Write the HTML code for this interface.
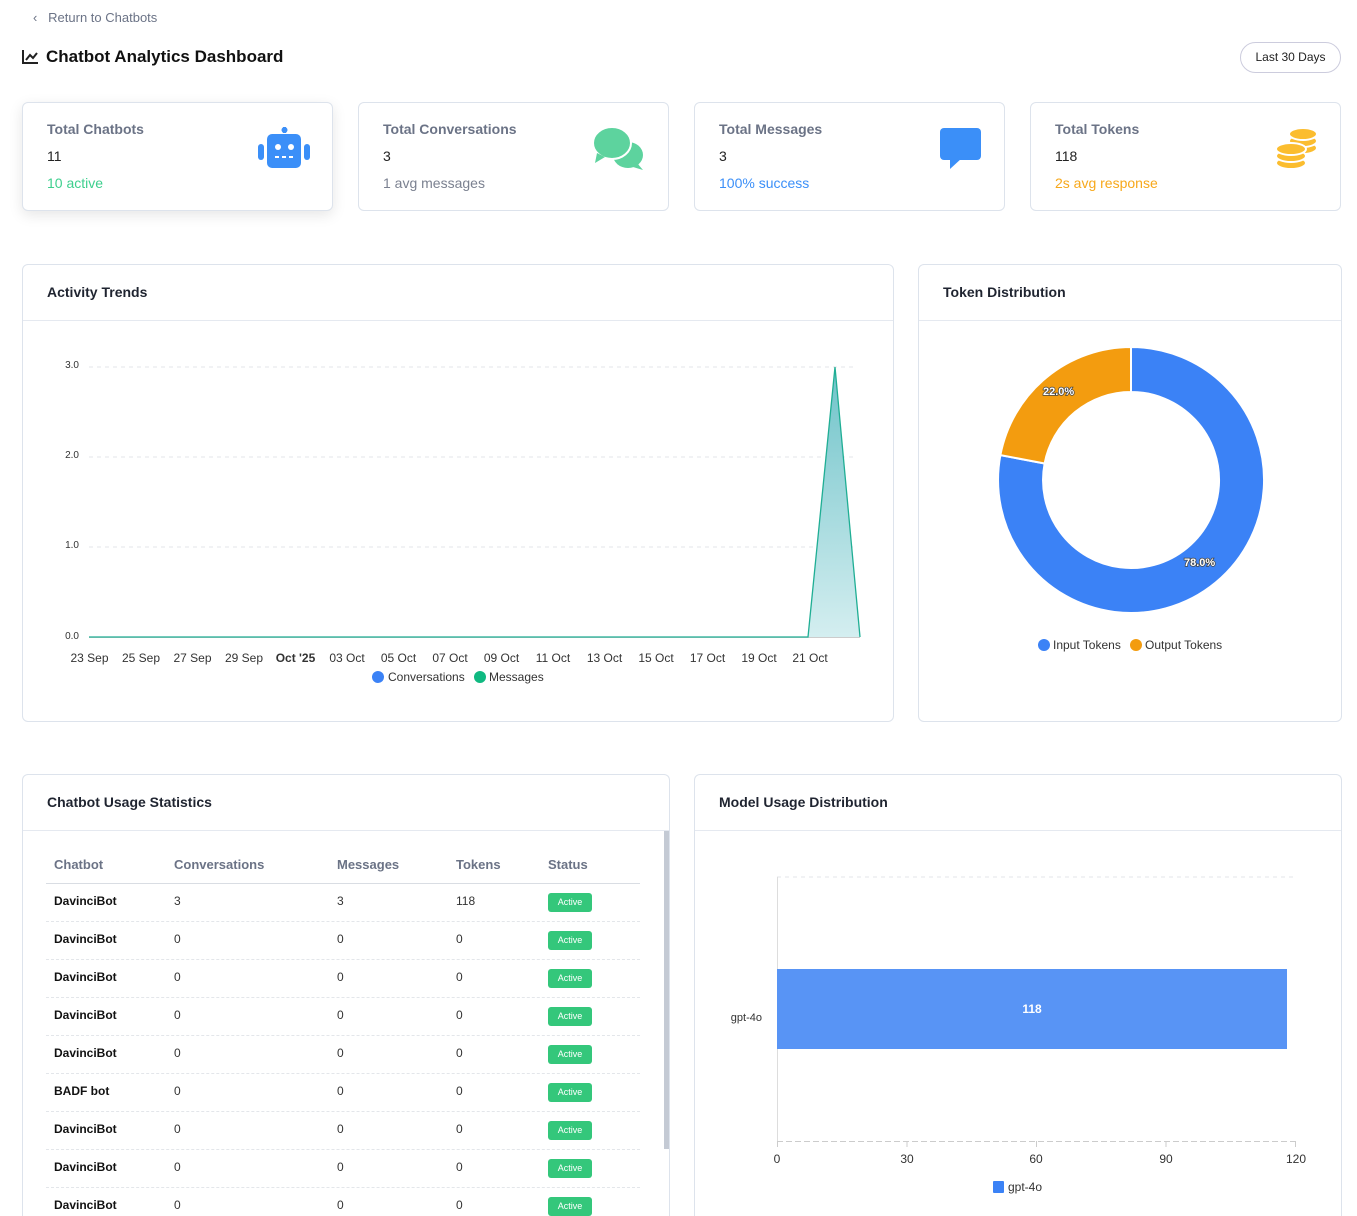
<!DOCTYPE html>
<html style="height:1216px;overflow:hidden"><head><meta charset="utf-8"><style>
body{margin:0;width:1357px;height:1216px;overflow:hidden;background:#fff;font-family:"Liberation Sans",sans-serif;position:relative;color:#1f2937}
.a{position:absolute}
.card{position:absolute;top:102px;width:311px;height:109px;border:1px solid #dde3ec;border-radius:6px;background:#fff;box-sizing:border-box}
.card .t{position:absolute;left:24px;top:18px;font-size:14px;font-weight:bold;color:#6b7386}
.card .v{position:absolute;left:24px;top:45px;font-size:14px;color:#222}
.card .s{position:absolute;left:24px;top:72px;font-size:14px}
.panel{position:absolute;border:1px solid #dde3ec;border-radius:6px;background:#fff;box-sizing:border-box}
.panel .h{position:absolute;left:24px;top:19px;font-size:14px;font-weight:bold;color:#1f2430}
.panel .hl{position:absolute;left:0;right:0;top:55px;border-top:1px solid #e5e9f0}
.th{position:absolute;top:857px;font-size:13px;font-weight:bold;color:#6b7386}
.td{position:absolute;font-size:12px;color:#333}
.b{font-weight:bold;color:#111}
.badge{position:absolute;left:548px;width:44px;height:19px;background:#34c77b;color:#fff;border-radius:3px;font-size:9px;text-align:center;line-height:19px}
.rl{position:absolute;left:46px;width:594px;border-top:1px dashed #e3e6ea}
</style></head><body>
<div class="a" style="left:33px;top:10px;font-size:13px;color:#6b7386">‹&nbsp;&nbsp;&nbsp;Return to Chatbots</div>
<svg class="a" style="left:21px;top:49px" width="18" height="16"><path d="M2 1V14H17" stroke="#222" stroke-width="2" fill="none"/><path d="M5 11L9 6L12 9L16 4" stroke="#222" stroke-width="2" fill="none"/></svg>
<div class="a" style="left:46px;top:47px;font-size:17px;font-weight:bold;color:#111">Chatbot Analytics Dashboard</div>
<div class="a" style="left:1240px;top:42px;width:101px;height:31px;border:1px solid #ccd;border-radius:16px;box-sizing:border-box;font-size:12px;text-align:center;line-height:29px;color:#222">Last 30 Days</div>

<div class="card" style="left:22px;box-shadow:0 4px 14px rgba(0,0,0,.1)"><div class="t">Total Chatbots</div><div class="v">11</div><div class="s" style="color:#3ecf8e">10 active</div>
<svg class="a" style="left:235px;top:24px" width="52" height="42"><rect x="25" y="0" width="3" height="6" fill="#3b8ff8"/><circle cx="26.5" cy="3" r="3" fill="#3b8ff8"/><rect x="9" y="7" width="34" height="34" rx="5" fill="#3b8ff8"/><rect x="0" y="17" width="6" height="16" rx="3" fill="#3b8ff8"/><rect x="46" y="17" width="6" height="16" rx="3" fill="#3b8ff8"/><circle cx="20" cy="20" r="3" fill="#fff"/><circle cx="33" cy="20" r="3" fill="#fff"/><rect x="17" y="29" width="4" height="2" fill="#fff"/><rect x="24" y="29" width="4" height="2" fill="#fff"/><rect x="31" y="29" width="4" height="2" fill="#fff"/></svg></div>
<div class="card" style="left:358px"><div class="t">Total Conversations</div><div class="v">3</div><div class="s" style="color:#7b8190">1 avg messages</div>
<svg class="a" style="left:234px;top:24px" width="54" height="44"><ellipse cx="35" cy="28" rx="15" ry="13" fill="#5dd39e"/><path d="M44 36L50 43L40 40Z" fill="#5dd39e"/><ellipse cx="19" cy="16" rx="19" ry="16" fill="#5dd39e" stroke="#fff" stroke-width="2"/><path d="M4 26L2 36L12 30Z" fill="#5dd39e"/></svg></div>
<div class="card" style="left:694px"><div class="t">Total Messages</div><div class="v">3</div><div class="s" style="color:#3b8ff8">100% success</div>
<svg class="a" style="left:245px;top:25px" width="42" height="42"><rect x="0" y="0" width="41" height="32" rx="4" fill="#3b8ff8"/><path d="M10 30L10 41L22 30Z" fill="#3b8ff8"/></svg></div>
<div class="card" style="left:1030px"><div class="t">Total Tokens</div><div class="v">118</div><div class="s" style="color:#f7a81b">2s avg response</div>
<svg class="a" style="left:244px;top:25px" width="44" height="44"><g fill="#fbbd2f" stroke="#fff" stroke-width="2"><ellipse cx="28" cy="20" rx="14" ry="6"/><ellipse cx="28" cy="13" rx="14" ry="6"/><ellipse cx="28" cy="6" rx="14" ry="6"/><ellipse cx="16" cy="35" rx="15" ry="6"/><ellipse cx="16" cy="28" rx="15" ry="6"/><ellipse cx="16" cy="21" rx="15" ry="6"/></g></svg></div>

<div class="panel" style="left:22px;top:264px;width:872px;height:458px"><div class="h">Activity Trends</div><div class="hl"></div></div>
<svg class="a" style="left:0;top:0" width="900" height="700">
<defs><linearGradient id="g" x1="0" y1="0" x2="0" y2="1"><stop offset="0" stop-color="#6fc3c9"/><stop offset="1" stop-color="#d4eef0"/></linearGradient></defs>
<g stroke="#e3e6ea" stroke-dasharray="4 4"><line x1="89" x2="856" y1="367" y2="367"/><line x1="89" x2="856" y1="457" y2="457"/><line x1="89" x2="856" y1="547" y2="547"/></g>
<g font-size="10" fill="#333" text-anchor="end"><text x="79" y="368">3.0</text><text x="79" y="458">2.0</text><text x="79" y="548">1.0</text><text x="79" y="639">0.0</text></g>
<line x1="89" x2="860" y1="637.5" y2="637.5" stroke="#ccc"/>
<path d="M808 637L835 367L860 637Z" fill="url(#g)"/>
<path d="M89 637H808L835 367L860 637" fill="none" stroke="#1fae94" stroke-width="1.3"/>
<g font-size="12" fill="#333" text-anchor="middle">
<text x="89.5" y="662">23 Sep</text><text x="141" y="662">25 Sep</text><text x="192.5" y="662">27 Sep</text><text x="244" y="662">29 Sep</text><text x="295.5" y="662" font-weight="bold">Oct '25</text><text x="347" y="662">03 Oct</text><text x="398.5" y="662">05 Oct</text><text x="450" y="662">07 Oct</text><text x="501.5" y="662">09 Oct</text><text x="553" y="662">11 Oct</text><text x="604.5" y="662">13 Oct</text><text x="656" y="662">15 Oct</text><text x="707.5" y="662">17 Oct</text><text x="759" y="662">19 Oct</text><text x="810" y="662">21 Oct</text></g>
<circle cx="378" cy="677" r="6" fill="#3b82f6"/><text x="388" y="681" font-size="12" fill="#333">Conversations</text>
<circle cx="480" cy="677" r="6" fill="#10b981"/><text x="489" y="681" font-size="12" fill="#333">Messages</text>
</svg>

<div class="panel" style="left:918px;top:264px;width:424px;height:458px"><div class="h">Token Distribution</div><div class="hl"></div></div>
<svg class="a" style="left:0;top:0" width="1357" height="700">
<path d="M1131 347A133 133 0 1 1 1000.4 455.1L1044.6 463.5A88 88 0 1 0 1131 392Z" fill="#3b82f6" stroke="#fff" stroke-width="2"/>
<path d="M1000.4 455.1A133 133 0 0 1 1131 347L1131 392A88 88 0 0 0 1044.6 463.5Z" fill="#f39c0f" stroke="#fff" stroke-width="2"/>
<g font-size="11" font-weight="bold" fill="#fff" style="paint-order:stroke" stroke="#444" stroke-width="1.5"><text x="1043" y="395">22.0%</text><text x="1184" y="566">78.0%</text></g>
<circle cx="1044" cy="645" r="6" fill="#3b82f6"/><text x="1053" y="649" font-size="12" fill="#333">Input Tokens</text>
<circle cx="1136" cy="645" r="6" fill="#f39c0f"/><text x="1145" y="649" font-size="12" fill="#333">Output Tokens</text>
</svg>

<div class="panel" style="left:22px;top:774px;width:648px;height:442px;border-bottom:none;border-radius:6px 6px 0 0"><div class="h">Chatbot Usage Statistics</div><div class="hl"></div></div>
<div class="a" style="left:664px;top:831px;width:5px;height:318px;background:#c4cad4"></div>
<div class="th" style="left:54px">Chatbot</div><div class="th" style="left:174px">Conversations</div><div class="th" style="left:337px">Messages</div><div class="th" style="left:456px">Tokens</div><div class="th" style="left:548px">Status</div>
<div class="a" style="left:46px;top:883px;width:594px;border-top:1px solid #d9dde3"></div>
<div class="td b" style="left:54px;top:894px">DavinciBot</div><div class="td" style="left:174px;top:894px">3</div><div class="td" style="left:337px;top:894px">3</div><div class="td" style="left:456px;top:894px">118</div><div class="badge" style="top:893px">Active</div><div class="rl" style="top:921px"></div>
<div class="td b" style="left:54px;top:932px">DavinciBot</div><div class="td" style="left:174px;top:932px">0</div><div class="td" style="left:337px;top:932px">0</div><div class="td" style="left:456px;top:932px">0</div><div class="badge" style="top:931px">Active</div><div class="rl" style="top:959px"></div>
<div class="td b" style="left:54px;top:970px">DavinciBot</div><div class="td" style="left:174px;top:970px">0</div><div class="td" style="left:337px;top:970px">0</div><div class="td" style="left:456px;top:970px">0</div><div class="badge" style="top:969px">Active</div><div class="rl" style="top:997px"></div>
<div class="td b" style="left:54px;top:1008px">DavinciBot</div><div class="td" style="left:174px;top:1008px">0</div><div class="td" style="left:337px;top:1008px">0</div><div class="td" style="left:456px;top:1008px">0</div><div class="badge" style="top:1007px">Active</div><div class="rl" style="top:1035px"></div>
<div class="td b" style="left:54px;top:1046px">DavinciBot</div><div class="td" style="left:174px;top:1046px">0</div><div class="td" style="left:337px;top:1046px">0</div><div class="td" style="left:456px;top:1046px">0</div><div class="badge" style="top:1045px">Active</div><div class="rl" style="top:1073px"></div>
<div class="td b" style="left:54px;top:1084px">BADF bot</div><div class="td" style="left:174px;top:1084px">0</div><div class="td" style="left:337px;top:1084px">0</div><div class="td" style="left:456px;top:1084px">0</div><div class="badge" style="top:1083px">Active</div><div class="rl" style="top:1111px"></div>
<div class="td b" style="left:54px;top:1122px">DavinciBot</div><div class="td" style="left:174px;top:1122px">0</div><div class="td" style="left:337px;top:1122px">0</div><div class="td" style="left:456px;top:1122px">0</div><div class="badge" style="top:1121px">Active</div><div class="rl" style="top:1149px"></div>
<div class="td b" style="left:54px;top:1160px">DavinciBot</div><div class="td" style="left:174px;top:1160px">0</div><div class="td" style="left:337px;top:1160px">0</div><div class="td" style="left:456px;top:1160px">0</div><div class="badge" style="top:1159px">Active</div><div class="rl" style="top:1187px"></div>
<div class="td b" style="left:54px;top:1198px">DavinciBot</div><div class="td" style="left:174px;top:1198px">0</div><div class="td" style="left:337px;top:1198px">0</div><div class="td" style="left:456px;top:1198px">0</div><div class="badge" style="top:1197px">Active</div>

<div class="panel" style="left:694px;top:774px;width:648px;height:442px;border-bottom:none;border-radius:6px 6px 0 0"><div class="h">Model Usage Distribution</div><div class="hl"></div></div>
<svg class="a" style="left:0;top:0" width="1357" height="1216">
<line x1="777" x2="1296" y1="877" y2="877" stroke="#e3e6ea" stroke-dasharray="4 4"/>
<line x1="777.5" x2="777.5" y1="877" y2="1141" stroke="#ddd"/>
<line x1="777" x2="1296" y1="1141.5" y2="1141.5" stroke="#ccc" stroke-dasharray="6 3"/>
<g stroke="#ccc"><line x1="777.5" x2="777.5" y1="1141" y2="1147"/><line x1="907" x2="907" y1="1141" y2="1147"/><line x1="1036.5" x2="1036.5" y1="1141" y2="1147"/><line x1="1166" x2="1166" y1="1141" y2="1147"/><line x1="1295.5" x2="1295.5" y1="1141" y2="1147"/></g>
<rect x="777" y="969" width="510" height="80" fill="#5894f5"/>
<text x="1032" y="1013" font-size="12" font-weight="bold" fill="#fff" text-anchor="middle">118</text>
<text x="762" y="1021" font-size="11" fill="#333" text-anchor="end">gpt-4o</text>
<g font-size="12" fill="#333" text-anchor="middle"><text x="777" y="1163">0</text><text x="907" y="1163">30</text><text x="1036" y="1163">60</text><text x="1166" y="1163">90</text><text x="1296" y="1163">120</text></g>
<rect x="993" y="1181" width="11" height="12" rx="1" fill="#3b82f6"/><text x="1008" y="1191" font-size="12" fill="#333">gpt-4o</text>
</svg>
</body></html>
